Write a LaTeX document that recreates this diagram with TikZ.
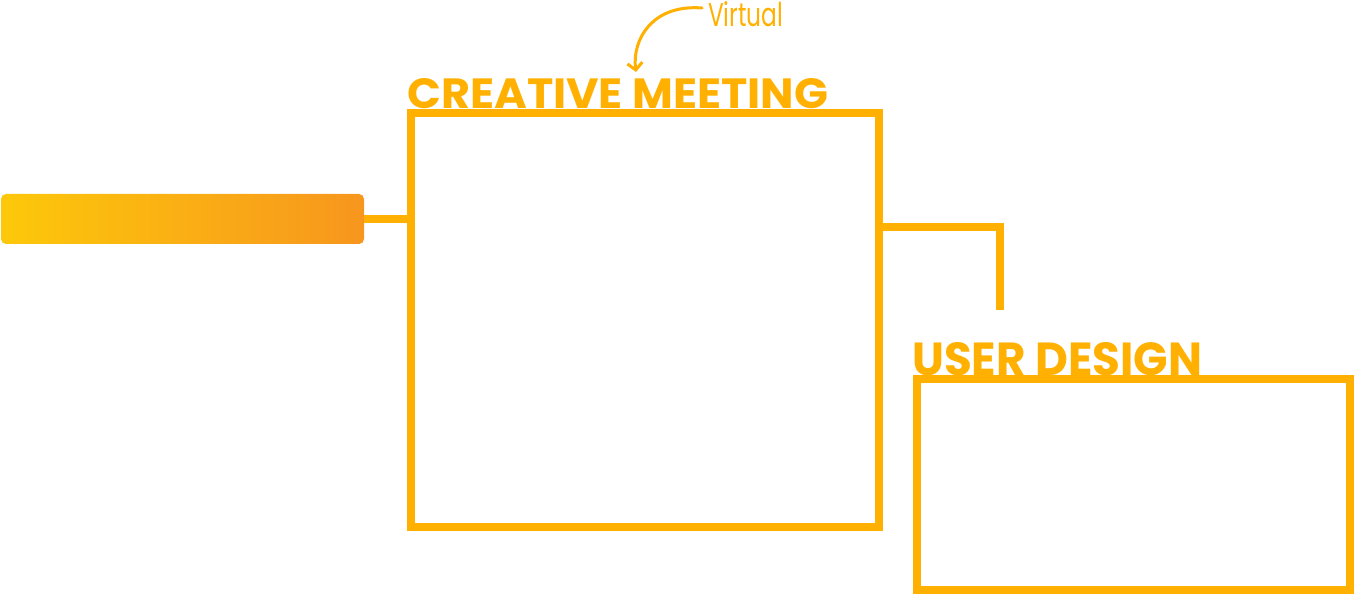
\documentclass[tikz,border=0pt]{standalone}
\usepackage{fontspec}
\setmainfont{Poppins}
\usetikzlibrary{arrows.meta}
\definecolor{amber}{RGB}{255,176,0}
\definecolor{gradL}{RGB}{253,200,10}
\definecolor{gradR}{RGB}{247,150,30}
\tikzset{
  framebox/.style={draw=amber, line width=7.5pt, inner sep=0pt, line join=miter},
  link/.style={draw=amber, line width=7.5pt, line join=miter},
  title/.style={text=amber, inner sep=0pt, font=\bfseries},
  note/.style={text=amber, inner sep=0pt},
  notearrow/.style={draw=amber, line width=3pt, line cap=round, -{Straight Barb[length=7pt,width=15pt,line width=3pt]}}
}
\begin{document}
\begin{tikzpicture}[x=1pt,y=-1pt]
\useasboundingbox (0,0) rectangle (1355,596);
% gradient bar
\node[rounded corners=5pt, left color=gradL, right color=gradR, minimum width=363pt, minimum height=50pt, inner sep=0pt] (bar) at (182.5,219) {};
% boxes
\node[framebox, minimum width=468pt, minimum height=414pt] (cm) at (645,320) {};
\node[framebox, minimum width=433pt, minimum height=211pt] (ud) at (1133.5,484.5) {};
% titles
\node[title, anchor=south west] (cmt) at (407,109) {\resizebox{421pt}{30pt}{CREATIVE MEETING}};
\node[title, anchor=south west] (udt) at (912,376) {\resizebox{290pt}{33pt}{USER DESIGN}};
% connectors
\draw[link] (bar.east) -- (bar.east -| cm.west);
\coordinate (rt) at (1000,227);
\coordinate (rc) at (1000,310);
\draw[link] (cm.east |- rt) -| (rc);
% Virtual note
\node[note, anchor=south west] (virt) at (708,27) {\resizebox{75pt}{25pt}{Virtual}};
\coordinate (vs) at (702,8);
\coordinate (ve) at (636,72);
\draw[notearrow] (vs) .. controls (652,4) and (632,40) .. (ve);
\end{tikzpicture}
\end{document}
